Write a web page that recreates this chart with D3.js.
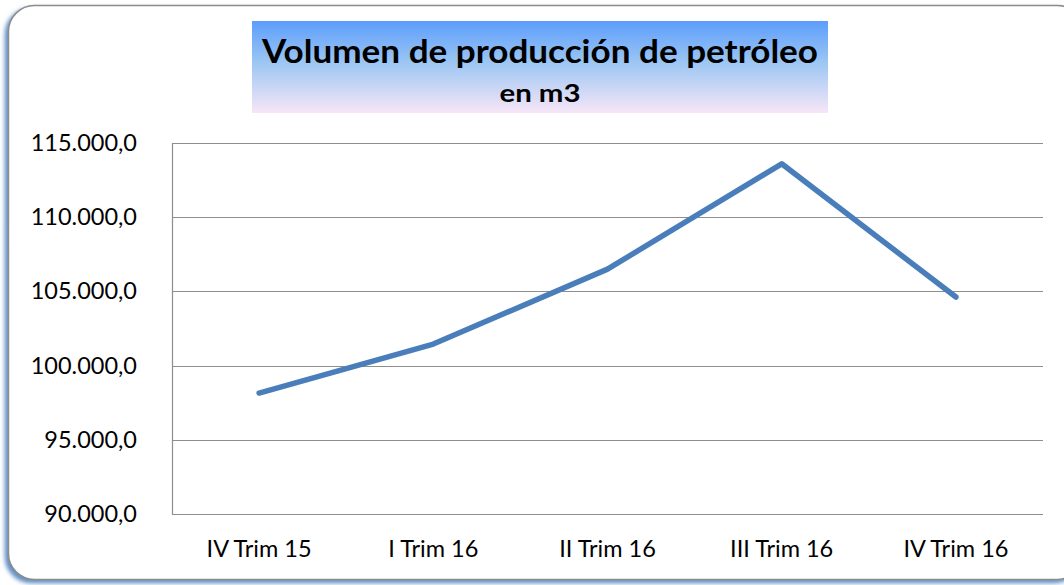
<!DOCTYPE html>
<html>
<head>
<meta charset="utf-8">
<script src="https://cdnjs.cloudflare.com/ajax/libs/d3/7.8.5/d3.min.js"></script>
<style>
  body { margin: 0; background: #fff; }
  svg { display: block; font-family: Lato, "Open Sans", sans-serif; }
</style>
</head>
<body>
<svg id="chart" width="1064" height="585"></svg>
<script>
// Chart data
const categories = ["IV Trim 15", "I Trim 16", "II Trim 16", "III Trim 16", "IV Trim 16"];
const volumes = [98150, 101450, 106500, 113600, 104620];
const yTicks = [90000, 95000, 100000, 105000, 110000, 115000];
const titleMain = "Volumen de producción de petróleo";
const titleSub = "en m3";

const svg = d3.select("#chart");
const defs = svg.append("defs");

// Shadow for the frame
const shadow = defs.append("filter").attr("id", "shadow")
    .attr("x", "-5%").attr("y", "-5%").attr("width", "110%").attr("height", "110%");
shadow.append("feDropShadow")
    .attr("dx", -3).attr("dy", 3).attr("stdDeviation", 2)
    .attr("flood-color", "#4f81bd").attr("flood-opacity", 0.9);

const grad = defs.append("linearGradient").attr("id", "titleGrad")
    .attr("x1", 0).attr("y1", 0).attr("x2", 0).attr("y2", 1);
grad.append("stop").attr("offset", "0%").attr("stop-color", "#5c9dfb");
grad.append("stop").attr("offset", "45%").attr("stop-color", "#9cc6f3");
grad.append("stop").attr("offset", "100%").attr("stop-color", "#f7e6f7");

// Outer rounded frame
svg.append("rect")
    .attr("x", 8.5).attr("y", 5.5)
    .attr("width", 1075).attr("height", 574)
    .attr("rx", 26).attr("ry", 26)
    .attr("fill", "#fff")
    .attr("stroke", "#8c8c8c").attr("stroke-width", 1.5)
    .attr("filter", "url(#shadow)");

// Title box
svg.append("rect")
    .attr("x", 252).attr("y", 21)
    .attr("width", 576).attr("height", 92)
    .attr("fill", "url(#titleGrad)");

svg.append("text")
    .attr("x", 540).attr("y", 63)
    .attr("text-anchor", "middle")
    .attr("font-weight", "bold").attr("font-size", 33)
    .attr("textLength", 556).attr("lengthAdjust", "spacingAndGlyphs")
    .attr("fill", "#000")
    .text(titleMain);

svg.append("text")
    .attr("x", 540).attr("y", 102)
    .attr("text-anchor", "middle")
    .attr("font-weight", "bold").attr("font-size", 24)
    .attr("textLength", 81).attr("lengthAdjust", "spacingAndGlyphs")
    .attr("fill", "#000")
    .text(titleSub);

// Plot area
const plotL = 172, plotR = 1043, plotT = 143, plotB = 514;

const x = d3.scaleBand().domain(categories).range([plotL, plotR]);
const y = d3.scaleLinear().domain([90000, 115000]).range([plotB, plotT]);

const fmt = v => d3.format(",.1f")(v).replace(/,/g, "#").replace(".", ",").replace(/#/g, ".");

// Gridlines
svg.append("g")
    .selectAll("line")
    .data(yTicks)
    .join("line")
    .attr("x1", plotL).attr("x2", plotR)
    .attr("y1", d => Math.round(y(d)) + 0.5).attr("y2", d => Math.round(y(d)) + 0.5)
    .attr("stroke", "#8e8e8e").attr("stroke-width", 1.2);

// Left axis line
svg.append("line")
    .attr("x1", plotL + 0.5).attr("x2", plotL + 0.5)
    .attr("y1", plotT).attr("y2", plotB)
    .attr("stroke", "#8e8e8e").attr("stroke-width", 1.2);

// Y tick labels
svg.append("g")
    .selectAll("text")
    .data(yTicks)
    .join("text")
    .attr("x", 137).attr("y", d => y(d) + 8)
    .attr("text-anchor", "end")
    .attr("font-size", 23.5)
    .attr("fill", "#000")
    .text(fmt);

// X labels
svg.append("g")
    .selectAll("text")
    .data(categories)
    .join("text")
    .attr("x", d => x(d) + x.bandwidth() / 2)
    .attr("y", 557)
    .attr("text-anchor", "middle")
    .attr("font-size", 23.5)
    .attr("fill", "#000")
    .text(d => d);

// Line
const line = d3.line()
    .x((d, i) => x(categories[i]) + x.bandwidth() / 2)
    .y(d => y(d));

svg.append("path")
    .datum(volumes)
    .attr("d", line)
    .attr("fill", "none")
    .attr("stroke", "#4a7ebb")
    .attr("stroke-width", 5.5)
    .attr("stroke-linecap", "round")
    .attr("stroke-linejoin", "round");
</script>
</body>
</html>
